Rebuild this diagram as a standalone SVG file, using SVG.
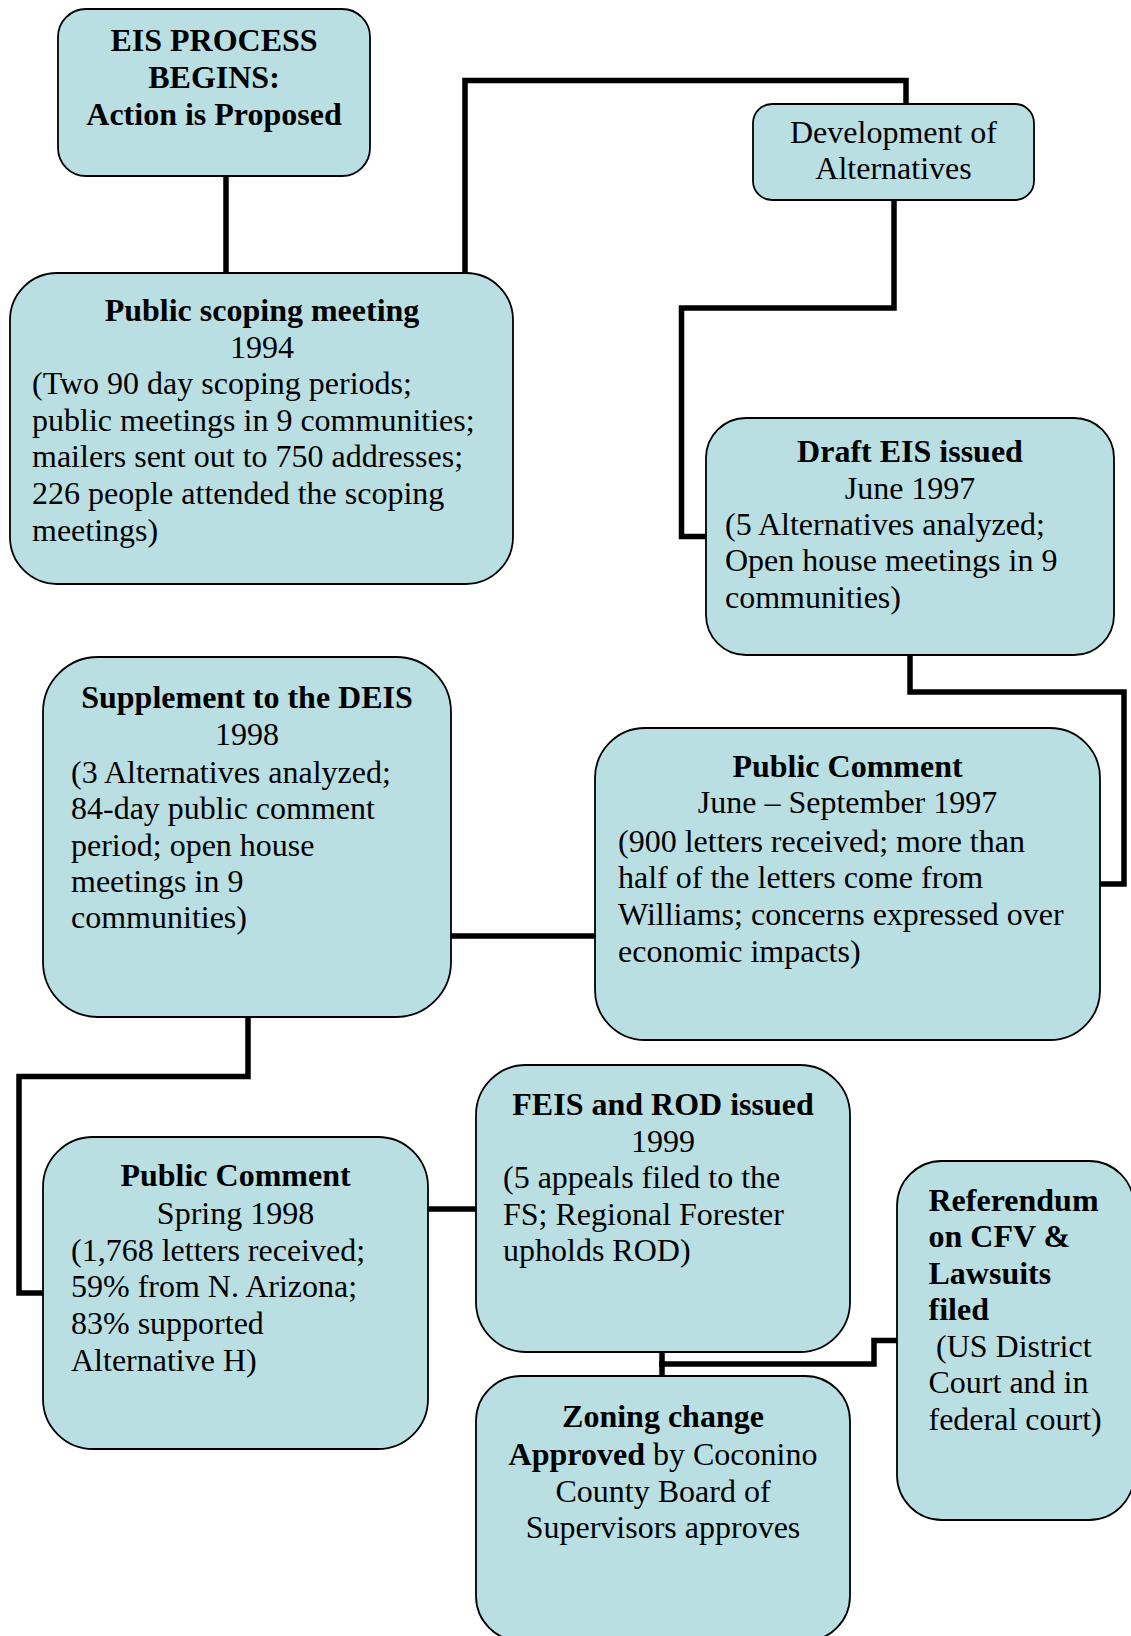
<svg xmlns="http://www.w3.org/2000/svg" width="1131" height="1636" viewBox="0 0 1131 1636">
<style>
.box{fill:#B9DFE3;stroke:#000;stroke-width:1.8}
.t{font-family:"Liberation Serif","Times New Roman",serif;font-size:32px;fill:#000}
.b{font-weight:bold}
.c{text-anchor:middle}
.conn{fill:none;stroke:#000;stroke-width:5.5;stroke-linejoin:miter;stroke-linecap:butt}
</style>
<rect width="1131" height="1636" fill="#fff"/>
<g id="connectors">
<path class="conn" d="M226 176 V273"/>
<path class="conn" d="M465 273 V80.5 H906 V104"/>
<path class="conn" d="M894 200 V308 H681.5 V536.5 H706"/>
<path class="conn" d="M910 655 V692 H1124 V884 H1100"/>
<path class="conn" d="M451 936 H595"/>
<path class="conn" d="M248 1017 V1076.5 H19 V1293 H43"/>
<path class="conn" d="M428 1209 H476"/>
<path class="conn" d="M662 1352 V1376"/>
<path class="conn" d="M659 1364 H874 V1340.5 H897"/>
</g>
<g id="n-eis-begins">
<rect class="box" x="58" y="9" width="312" height="167" rx="28"/>
<text class="t b c" x="214" y="51">EIS PROCESS</text>
<text class="t b c" x="214" y="88">BEGINS:</text>
<text class="t b c" x="214" y="125">Action is Proposed</text>
</g>
<g id="n-scoping">
<rect class="box" x="10" y="273" width="503" height="311" rx="47"/>
<text class="t b c" x="262" y="321">Public scoping meeting</text>
<text class="t c" x="262" y="358">1994</text>
<text class="t" x="32" y="394">(Two 90 day scoping periods;</text>
<text class="t" x="32" y="431">public meetings in 9 communities;</text>
<text class="t" x="32" y="467">mailers sent out to 750 addresses;</text>
<text class="t" x="32" y="504">226 people attended the scoping</text>
<text class="t" x="32" y="541">meetings)</text>
</g>
<g id="n-alternatives">
<rect class="box" x="753" y="104" width="281" height="96" rx="19"/>
<text class="t c" x="893.5" y="143">Development of</text>
<text class="t c" x="893.5" y="179">Alternatives</text>
</g>
<g id="n-draft-eis">
<rect class="box" x="706" y="418" width="408" height="237" rx="40"/>
<text class="t b c" x="910" y="462">Draft EIS issued</text>
<text class="t c" x="910" y="499">June 1997</text>
<text class="t" x="725" y="534.5">(5 Alternatives analyzed;</text>
<text class="t" x="725" y="571">Open house meetings in 9</text>
<text class="t" x="725" y="607.5">communities)</text>
</g>
<g id="n-public-comment-1997">
<rect class="box" x="595" y="728" width="505" height="312" rx="50"/>
<text class="t b c" x="847.5" y="777">Public Comment</text>
<text class="t c" x="847.5" y="813">June – September 1997</text>
<text class="t" x="618" y="851.5">(900 letters received; more than</text>
<text class="t" x="618" y="888">half of the letters come from</text>
<text class="t" x="618" y="925">Williams; concerns expressed over</text>
<text class="t" x="618" y="961.5">economic impacts)</text>
</g>
<g id="n-supplement">
<rect class="box" x="43" y="657" width="408" height="360" rx="55"/>
<text class="t b c" x="247" y="708">Supplement to the DEIS</text>
<text class="t c" x="247" y="745">1998</text>
<text class="t" x="71" y="782.5">(3 Alternatives analyzed;</text>
<text class="t" x="71" y="819">84-day public comment</text>
<text class="t" x="71" y="856">period; open house</text>
<text class="t" x="71" y="892">meetings in 9</text>
<text class="t" x="71" y="928">communities)</text>
</g>
<g id="n-public-comment-1998">
<rect class="box" x="43" y="1137" width="385" height="312" rx="50"/>
<text class="t b c" x="235.5" y="1186">Public Comment</text>
<text class="t c" x="235.5" y="1223.5">Spring 1998</text>
<text class="t" x="71" y="1260.5">(1,768 letters received;</text>
<text class="t" x="71" y="1297">59% from N. Arizona;</text>
<text class="t" x="71" y="1334">83% supported</text>
<text class="t" x="71" y="1370.5">Alternative H)</text>
</g>
<g id="n-feis-rod">
<rect class="box" x="476" y="1065" width="374" height="287" rx="50"/>
<text class="t b c" x="663" y="1115">FEIS and ROD issued</text>
<text class="t c" x="663" y="1152">1999</text>
<text class="t" x="503" y="1188">(5 appeals filed to the</text>
<text class="t" x="503" y="1225">FS; Regional Forester</text>
<text class="t" x="503" y="1261">upholds ROD)</text>
</g>
<g id="n-zoning">
<rect class="box" x="476" y="1376" width="374" height="265" rx="45"/>
<text class="t b c" x="663" y="1427">Zoning change</text>
<text class="t c" x="663" y="1465"><tspan class="b">Approved</tspan> by Coconino</text>
<text class="t c" x="663" y="1502">County Board of</text>
<text class="t c" x="663" y="1538">Supervisors approves</text>
</g>
<g id="n-referendum">
<rect class="box" x="897" y="1161" width="237" height="359" rx="45"/>
<text class="t b" x="928.5" y="1210.5">Referendum</text>
<text class="t b" x="928.5" y="1247">on CFV &amp;</text>
<text class="t b" x="928.5" y="1283.5">Lawsuits</text>
<text class="t b" x="928.5" y="1320">filed</text>
<text class="t" x="936" y="1357">(US District</text>
<text class="t" x="928.5" y="1393">Court and in</text>
<text class="t" x="928.5" y="1430">federal court)</text>
</g>
</svg>
